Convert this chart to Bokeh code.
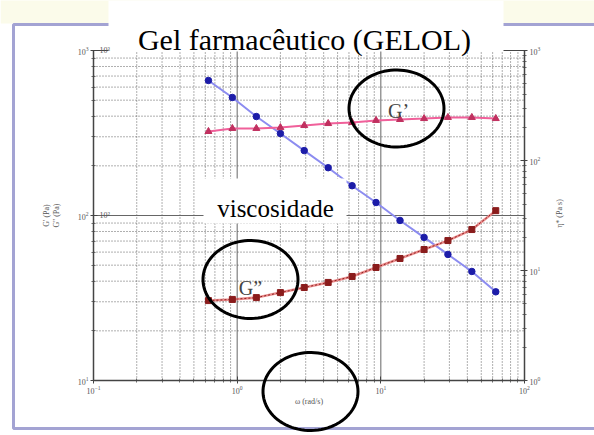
import numpy as np
from bokeh.plotting import figure
from bokeh.models import (LogAxis, Range1d, LogScale, Label, BoxAnnotation,
                          PolyAnnotation, FixedTicker)
from bokeh.embed import file_html
from bokeh.resources import INLINE

# ---- data ----
omega = [0.631, 0.926, 1.36, 2.0, 2.93, 4.30, 6.31, 9.26, 13.6, 20.0, 29.3, 43.0, 63.1]
g_storage = [323, 337, 337, 341, 351, 361, 366, 377, 382, 387, 393, 393, 387]
g_loss = [30.5, 31.0, 31.8, 34.1, 36.6, 39.3, 42.7, 48.4, 54.9, 62.2, 70.5, 82.2, 107]
viscosity = [534, 374, 251, 176, 123, 86, 59, 41.5, 28.5, 20.0, 14.0, 9.8, 6.4]

x_major = [0.1, 1, 10, 100]
yl_major = [10, 100, 1000]
yr_major = [1, 10, 100, 1000]
mantissas = [2, 3, 4, 5, 6, 7, 8, 9]

title_text = "Gel farmacêutico (GELOL)"
visc_text = "viscosidade"
gp_text = "G’"
gpp_text = "G”"
x_title = "ω (rad/s)"
left_titles = ["G' (Pa)", "G'' (Pa)"]
right_title = "η* (Pa s)"
inner_left_ticks = ["10³", "10²"]
inner_left_tick_values = [1000, 100]

W, H = 594, 435
FL, FR, FT, FB = 93, 524, 50, 380   # plot box edges in canvas pixels
SERIF = "Liberation Serif"


def minors(majors):
    return [m * d for d in majors[:-1] for m in mantissas]


def full_range(lo, hi, p_lo, p_hi, before, after):
    # log range spanning the whole canvas so that [lo, hi] sits at the box edges
    a, b = np.log10(lo), np.log10(hi)
    per = (b - a) / (p_hi - p_lo)
    return Range1d(10 ** (a - before * per), 10 ** (b + after * per))


def sx(px):
    return px


def sy(py):
    return H - py


xr = full_range(x_major[0], x_major[-1], FL, FR, FL, W - FR)
yr = full_range(yl_major[0], yl_major[-1], FT, FB, H - FB, FT)
yr2 = full_range(yr_major[0], yr_major[-1], FT, FB, H - FB, FT)

p = figure(width=W, height=H, x_axis_type="log", y_axis_type="log",
           x_range=xr, y_range=yr,
           output_backend="svg", toolbar_location=None,
           min_border=0, min_border_left=0, min_border_right=0,
           min_border_top=0, min_border_bottom=0,
           background_fill_color="white", border_fill_color="white",
           outline_line_color=None)
p.title = None
p.xgrid.visible = False
p.ygrid.visible = False
p.extra_y_ranges = {"visc": yr2}
p.extra_y_scales = {"visc": LogScale()}

p.xaxis.fixed_location = yl_major[0]
p.xaxis.bounds = (x_major[0], x_major[-1])
p.xaxis.ticker = FixedTicker(ticks=x_major, minor_ticks=minors(x_major))
p.yaxis.fixed_location = x_major[0]
p.yaxis.bounds = (yl_major[0], yl_major[-1])
p.yaxis.ticker = FixedTicker(ticks=yl_major, minor_ticks=minors(yl_major))

right = LogAxis(y_range_name="visc", fixed_location=x_major[-1],
                bounds=(yr_major[0], yr_major[-1]),
                ticker=FixedTicker(ticks=yr_major, minor_ticks=minors(yr_major)))
p.add_layout(right, "right")

for ax in [p.xaxis[0], p.yaxis[0], right]:
    ax.major_label_text_font_size = "8px"
    ax.major_label_text_color = "#555555"
    ax.major_label_text_font = SERIF
    ax.axis_line_color = "#444444"
    ax.axis_line_width = 1.5
    ax.major_tick_line_color = "#444444"
    ax.minor_tick_line_color = "#666666"
    ax.major_tick_in = 4
    ax.major_tick_out = 3
    ax.minor_tick_in = 2
    ax.minor_tick_out = 2
    ax.major_label_standoff = 2

p.xaxis.axis_label = x_title
p.xaxis.axis_label_text_font_size = "8px"
p.xaxis.axis_label_text_font_style = "normal"
p.xaxis.axis_label_text_color = "#555555"
p.xaxis.axis_label_text_font = SERIF
p.xaxis.axis_label_standoff = 0

# faint tinted strip above the page border
p.add_layout(BoxAnnotation(left=sx(0), right=sx(604), top=sy(-5), bottom=sy(23),
                           left_units="screen", right_units="screen",
                           top_units="screen", bottom_units="screen",
                           fill_color="#fbfbea", fill_alpha=1, line_alpha=0,
                           level="underlay"))

# ---- grid (limited to the plot box) ----
yl_lo, yl_hi = yl_major[0], yl_major[-1]
x_lo, x_hi = x_major[0], x_major[-1]
xm = minors(x_major)
p.segment(x0=xm, x1=xm, y0=[yl_lo] * len(xm), y1=[yl_hi] * len(xm),
          line_color="#444444", line_dash="1 2", line_alpha=0.85, line_width=1)
p.segment(x0=x_major, x1=x_major, y0=[yl_lo] * 4, y1=[yl_hi] * 4,
          line_color="#666666", line_width=1)
ym = minors(yl_major)
p.segment(x0=[x_lo] * len(ym), x1=[x_hi] * len(ym), y0=ym, y1=ym,
          line_color="#444444", line_dash="1 2", line_alpha=0.85, line_width=1)
p.segment(x0=[x_lo] * 3, x1=[x_hi] * 3, y0=yl_major, y1=yl_major,
          line_color="#666666", line_width=1)

# ---- series ----
p.line(omega, viscosity, y_range_name="visc", line_color="#8c8cf0", line_width=2)
p.scatter(omega, viscosity, y_range_name="visc", marker="circle", size=6.5,
          fill_color="#1c1ca8", line_color="#1c1ca8")
p.line(omega, g_storage, line_color="#f0609a", line_width=2)
p.scatter(omega, g_storage, marker="triangle", size=7,
          fill_color="#c0305f", line_color="#c0305f")
p.line(omega, g_loss, line_color="#eb8c8c", line_width=2.5)
p.line(omega, g_loss, line_color="#8a2020", line_width=1, line_dash="2 2")
p.scatter(omega, g_loss, marker="square", size=6,
          fill_color="#8a1c1c", line_color="#8a1c1c")

# ---- decorations ----
# plot box top edge
p.add_layout(BoxAnnotation(left=x_lo, right=x_hi, bottom=yl_lo, top=yl_hi,
                           fill_alpha=0, line_color="#444444", line_alpha=1,
                           line_width=1))
# outer page border
p.add_layout(BoxAnnotation(left=sx(13), right=sx(604), top=sy(24), bottom=sy(428),
                           left_units="screen", right_units="screen",
                           top_units="screen", bottom_units="screen",
                           fill_alpha=0, line_color="#a3a3d3", line_alpha=1,
                           line_width=3))

# title box + text
p.add_layout(BoxAnnotation(left=sx(108), right=sx(503), top=sy(0), bottom=sy(51),
                           left_units="screen", right_units="screen",
                           top_units="screen", bottom_units="screen",
                           fill_color="white", fill_alpha=1, line_alpha=0))
p.add_layout(Label(x=sx(304), y=sy(39), x_units="screen", y_units="screen",
                   text=title_text, text_font=SERIF, text_font_size="30px",
                   text_align="center", text_baseline="alphabetic", text_color="black"))

# viscosidade box + text
p.add_layout(BoxAnnotation(left=sx(203), right=sx(346), top=sy(178), bottom=sy(223),
                           left_units="screen", right_units="screen",
                           top_units="screen", bottom_units="screen",
                           fill_color="white", fill_alpha=1, line_alpha=0))
p.add_layout(Label(x=sx(275), y=sy(208), x_units="screen", y_units="screen",
                   text=visc_text, text_font=SERIF, text_font_size="25px",
                   text_align="center", text_baseline="alphabetic", text_color="black"))

# ellipses
t = np.linspace(0, 2 * np.pi, 90)
for (cx, cy, a, b) in [(396, 108, 47.5, 38.5), (250, 279, 47.5, 39), (310, 391, 47.5, 39)]:
    xs = [sx(cx + a * np.cos(v)) for v in t]
    ys = [sy(cy + b * np.sin(v)) for v in t]
    p.add_layout(PolyAnnotation(xs=xs, ys=ys, xs_units="screen", ys_units="screen",
                                fill_alpha=0, line_color="black", line_alpha=1,
                                line_width=3))

p.add_layout(Label(x=sx(398), y=sy(110), x_units="screen", y_units="screen",
                   text=gp_text, text_font=SERIF, text_font_size="20px",
                   text_align="center", text_baseline="alphabetic"))
p.add_layout(Label(x=sx(250), y=sy(287), x_units="screen", y_units="screen",
                   text=gpp_text, text_font=SERIF, text_font_size="20px",
                   text_align="center", text_baseline="alphabetic"))

# axis titles (rotated)
for i, txt in enumerate(left_titles):
    p.add_layout(Label(x=sx(46 + 10 * i), y=sy(215), x_units="screen", y_units="screen",
                       text=txt, text_font=SERIF, text_font_size="8px",
                       text_color="#555555", angle=np.pi / 2,
                       text_align="center", text_baseline="middle"))
p.add_layout(Label(x=sx(559), y=sy(213), x_units="screen", y_units="screen",
                   text=right_title, text_font=SERIF, text_font_size="8px",
                   text_color="#555555", angle=np.pi / 2,
                   text_align="center", text_baseline="middle"))

# duplicate inner left tick labels
for txt, v in zip(inner_left_ticks, inner_left_tick_values):
    p.add_layout(Label(x=sx(99), y=v, x_units="screen", y_units="data",
                       text=txt, text_font=SERIF, text_font_size="8px",
                       text_color="#555555", text_align="left", text_baseline="middle"))

open("out.html", "w").write(file_html(p, INLINE))
